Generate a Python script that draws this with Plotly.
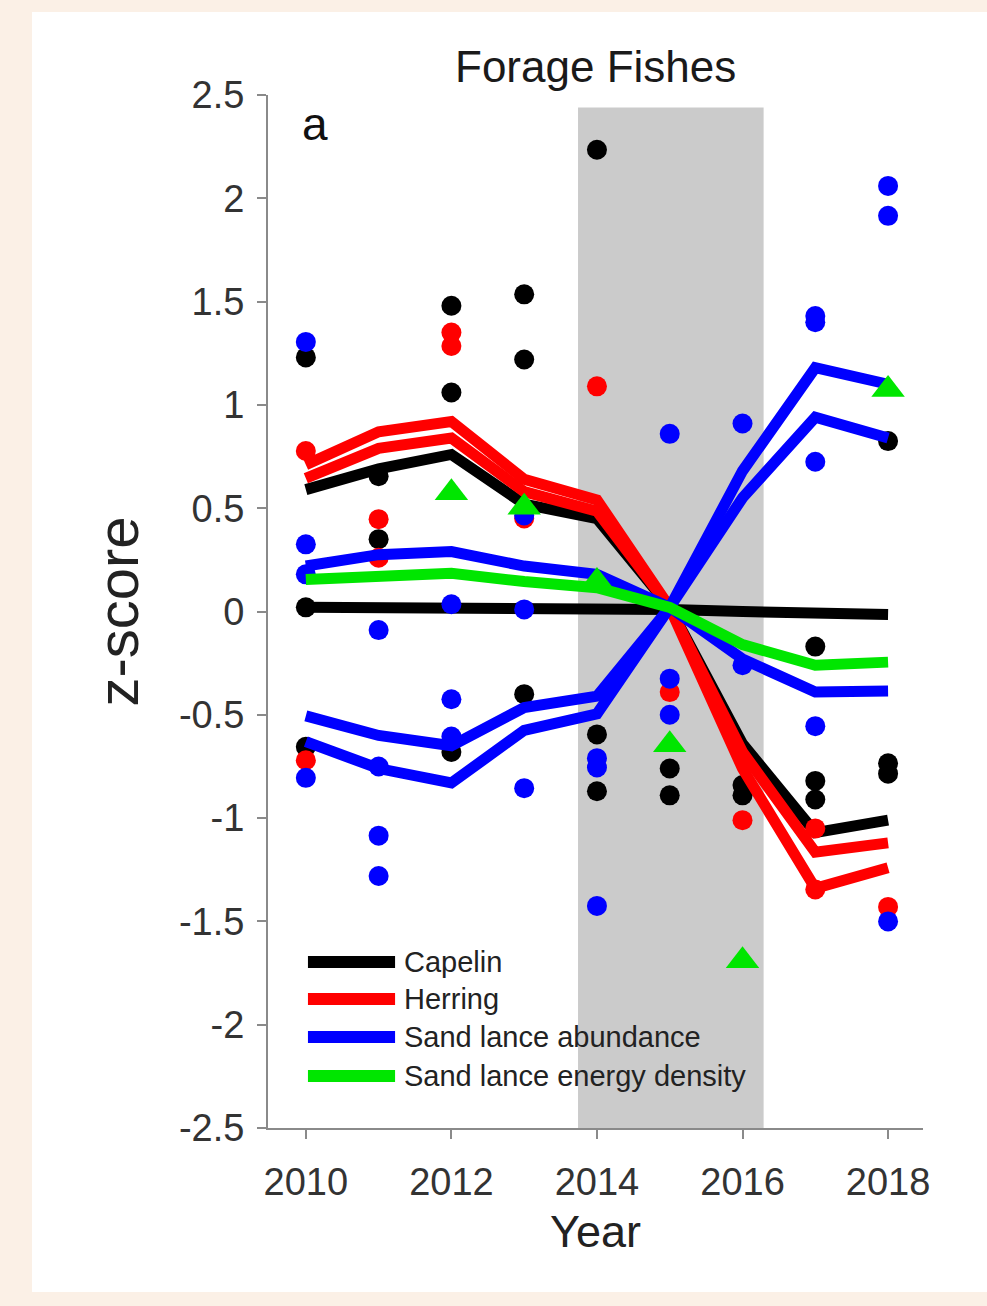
import plotly.graph_objects as go

# ---------------- data ----------------
years = [2010, 2011, 2012, 2013, 2014, 2015, 2016, 2017, 2018]

capelin_trends = [
    [0.59, 0.69, 0.76, 0.52, 0.45, 0.02, -0.64, -1.07, -1.01],
    [0.02, 0.02, 0.02, 0.02, 0.015, 0.01, 0.0, -0.01, -0.015],
]
herring_trends = [
    [0.71, 0.87, 0.92, 0.64, 0.54, 0.02, -0.76, -1.34, -1.24],
    [0.645, 0.79, 0.84, 0.58, 0.485, 0.02, -0.68, -1.165, -1.12],
]
sandlance_abund_trends = [
    [0.22, 0.275, 0.29, 0.22, 0.18, 0.02, -0.23, -0.39, -0.385],
    [-0.505, -0.60, -0.65, -0.465, -0.41, 0.02, 0.55, 0.94, 0.84],
    [-0.63, -0.76, -0.83, -0.575, -0.495, 0.02, 0.68, 1.18, 1.10],
]
sandlance_energy_trends = [
    [0.155, 0.17, 0.185, 0.145, 0.115, 0.02, -0.16, -0.26, -0.245],
]

capelin_pt_year = [2010, 2010, 2010, 2011, 2011, 2012, 2012, 2012, 2013, 2013, 2013,
                   2014, 2014, 2014, 2015, 2015, 2016, 2016, 2017, 2017, 2017, 2018, 2018, 2018]
capelin_pt_z = [1.23, 0.02, -0.655, 0.655, 0.35, 1.48, 1.06, -0.68, 1.535, 1.22, -0.40,
                2.235, -0.595, -0.87, -0.76, -0.89, -0.84, -0.89, -0.17, -0.82, -0.91, 0.825, -0.735, -0.785]

herring_pt_year = [2010, 2010, 2011, 2011, 2012, 2012, 2013, 2014, 2015, 2016, 2017, 2017, 2018]
herring_pt_z = [0.777, -0.72, 0.447, 0.26, 1.35, 1.285, 0.45, 1.09, -0.39, -1.01, -1.05, -1.345, -1.43]

sandlance_abund_pt_year = [2010, 2010, 2010, 2010, 2011, 2011, 2011, 2011, 2012, 2012, 2012,
                           2013, 2013, 2013, 2014, 2014, 2014, 2015, 2015, 2015, 2016, 2016,
                           2017, 2017, 2017, 2017, 2018, 2018, 2018]
sandlance_abund_pt_z = [1.305, 0.325, 0.18, -0.805, -0.09, -0.75, -1.085, -1.28, 0.035, -0.425, -0.605,
                        0.465, 0.01, -0.855, -0.71, -0.755, -1.425, 0.86, -0.325, -0.50, 0.91, -0.26,
                        1.43, 1.40, 0.725, -0.555, 2.06, 1.915, -1.50]

sandlance_energy_pt_year = [2012, 2013, 2014, 2015, 2016, 2018]
sandlance_energy_pt_z = [0.575, 0.505, 0.145, -0.645, -1.69, 1.075]

species_names = ["Capelin", "Herring", "Sand lance abundance", "Sand lance energy density"]
species_colors = ["#000000", "#ff0000", "#0000ff", "#00e600"]
species_symbols = ["circle", "circle", "circle", "triangle-up"]

heatwave_years = [2013.74, 2016.29]
shade_top = 2.44

y_tick_vals = [2.5, 2, 1.5, 1, 0.5, 0, -0.5, -1, -1.5, -2, -2.5]
y_tick_text = ["2.5", "2", "1.5", "1", "0.5", "0", "-0.5", "-1", "-1.5", "-2", "-2.5"]
x_tick_vals = [2010, 2012, 2014, 2016, 2018]

# ---------------- figure ----------------
fig = go.Figure()

groups = [
    (capelin_trends, capelin_pt_year, capelin_pt_z),
    (herring_trends, herring_pt_year, herring_pt_z),
    (sandlance_abund_trends, sandlance_abund_pt_year, sandlance_abund_pt_z),
    (sandlance_energy_trends, sandlance_energy_pt_year, sandlance_energy_pt_z),
]

for i, (trends, px, pz) in enumerate(groups):
    col = species_colors[i]
    for tr in trends:
        fig.add_trace(go.Scatter(
            x=years, y=tr, mode="lines",
            line=dict(color=col, width=11),
            showlegend=False, hoverinfo="skip"))
    size = 29 if species_symbols[i] == "triangle-up" else 20
    fig.add_trace(go.Scatter(
        x=px, y=pz, mode="markers",
        marker=dict(color=col, size=size, symbol=species_symbols[i], line=dict(width=0)),
        showlegend=False, name=species_names[i]))

# shaded marine heatwave period
fig.add_shape(type="rect", xref="x", yref="y",
              x0=heatwave_years[0], x1=heatwave_years[1], y0=-2.5, y1=shade_top,
              fillcolor="#cbcbcb", line=dict(width=0), layer="below")

# white panel on beige page
fig.add_shape(type="rect", xref="paper", yref="paper",
              x0=-0.3603, x1=1.1, y0=-0.1588, y1=1.0804,
              fillcolor="white", line=dict(width=0), layer="below")

# manual legend (long line swatches)
leg_x0, leg_x1, leg_text_x = 0.061, 0.194, 0.204
leg_y = [0.1607, 0.1249, 0.0881, 0.0503]
for i, name in enumerate(species_names):
    fig.add_shape(type="line", xref="paper", yref="paper",
                  x0=leg_x0, x1=leg_x1, y0=leg_y[i], y1=leg_y[i],
                  line=dict(color=species_colors[i], width=12))
    fig.add_annotation(xref="paper", yref="paper", x=leg_text_x, y=leg_y[i],
                       text=name, showarrow=False, xanchor="left", yanchor="middle",
                       font=dict(family="Liberation Sans", size=29, color="#222222"))

# title and panel letter
fig.add_annotation(xref="paper", yref="paper", x=0.5, y=1, yshift=29,
                   text="Forage Fishes", showarrow=False, xanchor="center", yanchor="middle",
                   font=dict(family="Liberation Sans", size=44, color="#1a1a1a"))
fig.add_annotation(xref="paper", yref="paper", x=0.072, y=0.972,
                   text="a", showarrow=False, xanchor="center", yanchor="middle",
                   font=dict(family="Liberation Sans", size=46, color="#111111"))

axis_col = "#8a8a8a"
fig.update_xaxes(range=[2009.48, 2018.48], tickvals=x_tick_vals,
                 ticks="outside", ticklen=9, tickwidth=2, tickcolor=axis_col,
                 showline=True, linecolor=axis_col, linewidth=2, mirror=False,
                 showgrid=False, zeroline=False, ticklabelstandoff=10,
                 tickfont=dict(family="Liberation Sans", size=38, color="#333333"),
                 title=dict(text="Year", standoff=14,
                            font=dict(family="Liberation Sans", size=45, color="#222222")))
fig.update_yaxes(range=[-2.5, 2.5], tickvals=y_tick_vals, ticktext=y_tick_text,
                 ticks="outside", ticklen=9, tickwidth=2, tickcolor=axis_col,
                 showline=True, linecolor=axis_col, linewidth=2, mirror=False,
                 showgrid=False, zeroline=False, ticklabelstandoff=5,
                 tickfont=dict(family="Liberation Sans", size=38, color="#333333"),
                 title=dict(text="z-score", standoff=22,
                            font=dict(family="Liberation Sans", size=58, color="#222222")))

fig.update_layout(width=987, height=1306,
                  margin=dict(l=268, r=64, t=95, b=178),
                  paper_bgcolor="#fbf0e6", plot_bgcolor="white",
                  showlegend=False)

fig.write_html("out.html",
               config={"displayModeBar": False},
               post_script="document.body.style.margin='0';document.body.style.overflow='hidden';")
